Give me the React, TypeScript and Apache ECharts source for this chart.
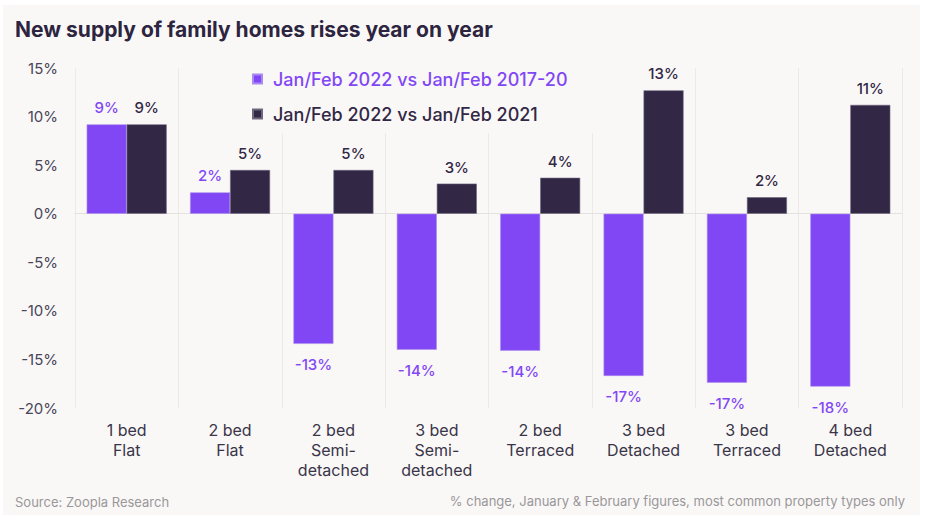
import React, { useEffect, useRef } from "react";
import * as echarts from "echarts";

const categories = [
  "1 bed\nFlat",
  "2 bed\nFlat",
  "2 bed\nSemi-\ndetached",
  "3 bed\nSemi-\ndetached",
  "2 bed\nTerraced",
  "3 bed\nDetached",
  "3 bed\nTerraced",
  "4 bed\nDetached",
];
const seriesNames = ["Jan/Feb 2022 vs Jan/Feb 2017-20", "Jan/Feb 2022 vs Jan/Feb 2021"];
const vs2017to20 = [9.2, 2.2, -13.4, -14.0, -14.1, -16.7, -17.4, -17.8];
const vs2021 = [9.2, 4.5, 4.5, 3.1, 3.7, 12.7, 1.7, 11.2];
const yTicks = { min: -20, max: 15, interval: 5 };

const PURPLE = "#8247F5";
const DARK = "#322745";
const BG = "#F9F8F7";
const FONT = "Inter, 'Noto Sans', sans-serif";

const toItems = (vals: number[]) =>
  vals.map((v) => ({
    value: v,
    label: { position: v < 0 ? "bottom" : "top", distance: v < 0 ? 13 : 9 },
  }));

export default function App() {
  const ref = useRef<HTMLDivElement>(null);
  useEffect(() => {
    if (!ref.current) return;
    const chart = echarts.init(ref.current, undefined, { renderer: "svg" });
    const labelFmt = (p: any) => Math.round(p.value) + "%";
    chart.setOption({
      animation: false,
      backgroundColor: "#ffffff",
      textStyle: { fontFamily: FONT },
      graphic: [
        {
          type: "rect",
          z: -10,
          silent: true,
          shape: { x: 3, y: 5, width: 917, height: 510 },
          style: { fill: BG },
        },
        {
          type: "text",
          left: 15,
          top: 19,
          style: {
            text: "New supply of family homes rises year on year",
            font: `bold 21px ${FONT}`,
            fill: "#2D2540",
          },
        },
        {
          type: "text",
          left: 15,
          top: 495,
          style: {
            text: "Source: Zoopla Research",
            font: `13px ${FONT}`,
            fill: "#9A9799",
          },
        },
        {
          type: "text",
          right: 20,
          top: 494,
          style: {
            text: "% change, January & February figures, most common property types only",
            font: `13px ${FONT}`,
            fill: "#9A9799",
          },
        },
      ],
      legend: {
        orient: "vertical",
        left: 242,
        top: 62,
        padding: [8, 32, 10, 10],
        backgroundColor: BG,
        itemWidth: 9,
        itemHeight: 9,
        itemGap: 17,
        icon: "rect",
        textStyle: { fontSize: 18, fontWeight: 500, fontFamily: FONT, padding: [0, 0, 0, 6] },
        data: [
          { name: seriesNames[0], textStyle: { color: PURPLE } },
          { name: seriesNames[1], textStyle: { color: DARK } },
        ],
        z: 5,
      },
      grid: { left: 75, right: 23, top: 68, bottom: 107, containLabel: false },
      xAxis: {
        type: "category",
        data: categories,
        axisTick: { show: false },
        axisLine: { onZero: true, lineStyle: { color: "#E4E1DE", width: 1 } },
        splitLine: { show: true, lineStyle: { color: "#ECE9E6", width: 1 } },
        axisLabel: {
          fontSize: 16,
          color: "#3A3548",
          lineHeight: 20,
          margin: 12,
          interval: 0,
          fontFamily: FONT,
        },
        position: "bottom",
      },
      yAxis: {
        type: "value",
        min: yTicks.min,
        max: yTicks.max,
        interval: yTicks.interval,
        splitLine: { show: false },
        axisLine: { show: false },
        axisTick: { show: false },
        axisLabel: {
          formatter: (v: number) => v + "%",
          fontSize: 15,
          color: "#4A4558",
          margin: 17,
          fontFamily: FONT,
        },
      },
      series: [
        {
          name: seriesNames[0],
          type: "bar",
          data: toItems(vs2017to20),
          barWidth: 40,
          barGap: "0%",
          itemStyle: { color: PURPLE, borderColor: "#A98BF0", borderWidth: 0.6 },
          label: {
            show: true,
            position: "top",
            distance: 9,
            formatter: labelFmt,
            color: PURPLE,
            fontSize: 15,
            fontWeight: 500,
            fontFamily: FONT,
          },
        },
        {
          name: seriesNames[1],
          type: "bar",
          data: toItems(vs2021),
          barWidth: 40,
          barGap: "0%",
          itemStyle: { color: DARK, borderColor: "#6E6680", borderWidth: 0.6 },
          label: {
            show: true,
            position: "top",
            distance: 9,
            formatter: labelFmt,
            color: DARK,
            fontSize: 15,
            fontWeight: 500,
            fontFamily: FONT,
          },
        },
      ],
    });
    return () => chart.dispose();
  }, []);
  return (
    <div
      ref={ref}
      style={{ position: "absolute", left: 0, top: 0, width: 925, height: 515 }}
    />
  );
}
